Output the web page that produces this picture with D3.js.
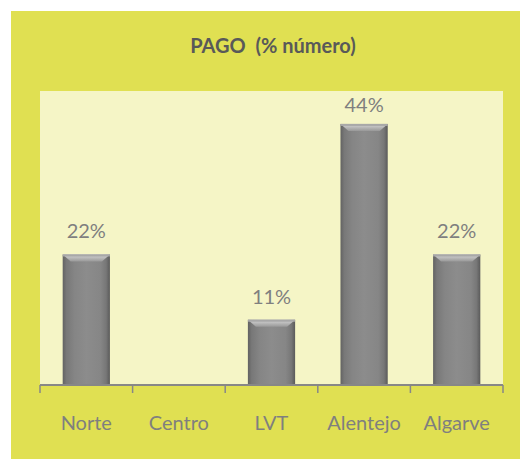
<!DOCTYPE html>
<html><head><meta charset="utf-8">
<script src="https://cdn.jsdelivr.net/npm/d3@7"></script>
<style>html,body{margin:0;padding:0;background:#fff;}svg{display:block;}</style>
</head><body>
<svg id="c" width="520" height="459"></svg>
<script>
const categories = ["Norte", "Centro", "LVT", "Alentejo", "Algarve"];
const values = [22.2, 0, 11.1, 44.4, 22.2];
const labels = ["22%", "", "11%", "44%", "22%"];
const title = "PAGO  (% número)";

const svg = d3.select("#c");
const font = "Lato, 'Open Sans', sans-serif";
svg.append("rect").attr("x", 11).attr("y", 11).attr("width", 509).attr("height", 448).attr("fill", "#e0e052");

const m = {l: 40, r: 503, t: 91, b: 385};
svg.append("rect").attr("x", m.l).attr("y", m.t).attr("width", m.r - m.l).attr("height", m.b - m.t).attr("fill", "#f5f5c6");

const x = d3.scaleBand().domain(categories).range([m.l, m.r]).paddingInner(0.49).paddingOuter(0.245);
const y = d3.scaleLinear().domain([0, 50]).range([m.b, m.t]);

const defs = svg.append("defs");
const g1 = defs.append("linearGradient").attr("id", "barg").attr("x1", 0).attr("x2", 1).attr("y1", 0).attr("y2", 0);
[[0, "#626262"], [0.08, "#787878"], [0.25, "#858585"], [0.5, "#8c8c8c"], [0.8, "#868686"], [0.92, "#777777"], [1, "#5a5a5a"]]
  .forEach(([o, c]) => g1.append("stop").attr("offset", o).attr("stop-color", c));
const g2 = defs.append("linearGradient").attr("id", "bevel").attr("x1", 0).attr("x2", 0).attr("y1", 0).attr("y2", 1);
[[0, "#d6d6d6"], [0.5, "#b8b8b8"], [1, "#999999"]]
  .forEach(([o, c]) => g2.append("stop").attr("offset", o).attr("stop-color", c));

const rows = categories.map((c, i) => ({c, v: values[i], l: labels[i]}));
const bars = svg.append("g").selectAll("g").data(rows.filter(d => d.v > 0)).join("g");
bars.append("rect")
  .attr("x", d => x(d.c)).attr("y", d => y(d.v))
  .attr("width", x.bandwidth()).attr("height", d => y(0) - y(d.v))
  .attr("fill", "url(#barg)");
bars.append("path")
  .attr("d", d => {
    const x0 = x(d.c), x1 = x0 + x.bandwidth(), t = y(d.v), h = 7;
    return `M${x0},${t}L${x1},${t}L${x1 - 8},${t + h}L${x0 + 8},${t + h}Z`;
  })
  .attr("fill", "url(#bevel)");
bars.append("rect")
  .attr("x", d => x(d.c)).attr("y", d => y(d.v))
  .attr("width", x.bandwidth()).attr("height", 2).attr("fill", "#a8a8a8");

svg.append("g").selectAll("text").data(rows.filter(d => d.l)).join("text")
  .attr("x", d => x(d.c) + x.bandwidth() / 2).attr("y", d => Math.max(y(d.v) - 16, m.t + 21))
  .attr("text-anchor", "middle").attr("font-family", font).attr("font-size", 20)
  .attr("fill", "#7f7f7f").text(d => d.l);

// axis
const ax = svg.append("g").attr("transform", `translate(0,${m.b})`);
ax.append("line").attr("x1", m.l).attr("x2", m.r).attr("stroke", "#878787").attr("stroke-width", 2);
const edges = categories.map(c => x(c) - x.step() * x.paddingInner() / 2).concat([m.r]);
edges[0] = m.l;
ax.selectAll("line.t").data(edges).join("line").attr("class", "t")
  .attr("x1", d => d).attr("x2", d => d).attr("y1", 0).attr("y2", 8)
  .attr("stroke", "#878787").attr("stroke-width", 1.5);
ax.selectAll("text").data(categories).join("text")
  .attr("x", d => x(d) + x.bandwidth() / 2).attr("y", 45)
  .attr("text-anchor", "middle").attr("font-family", font).attr("font-size", 20)
  .attr("fill", "#7f7f7f").text(d => d);

svg.append("text").attr("x", 273).attr("y", 53).attr("text-anchor", "middle")
  .attr("font-family", font).attr("font-weight", "bold").attr("font-size", 20)
  .attr("fill", "#595959").attr("xml:space", "preserve").style("white-space", "pre").text(title);
</script>
</body></html>
